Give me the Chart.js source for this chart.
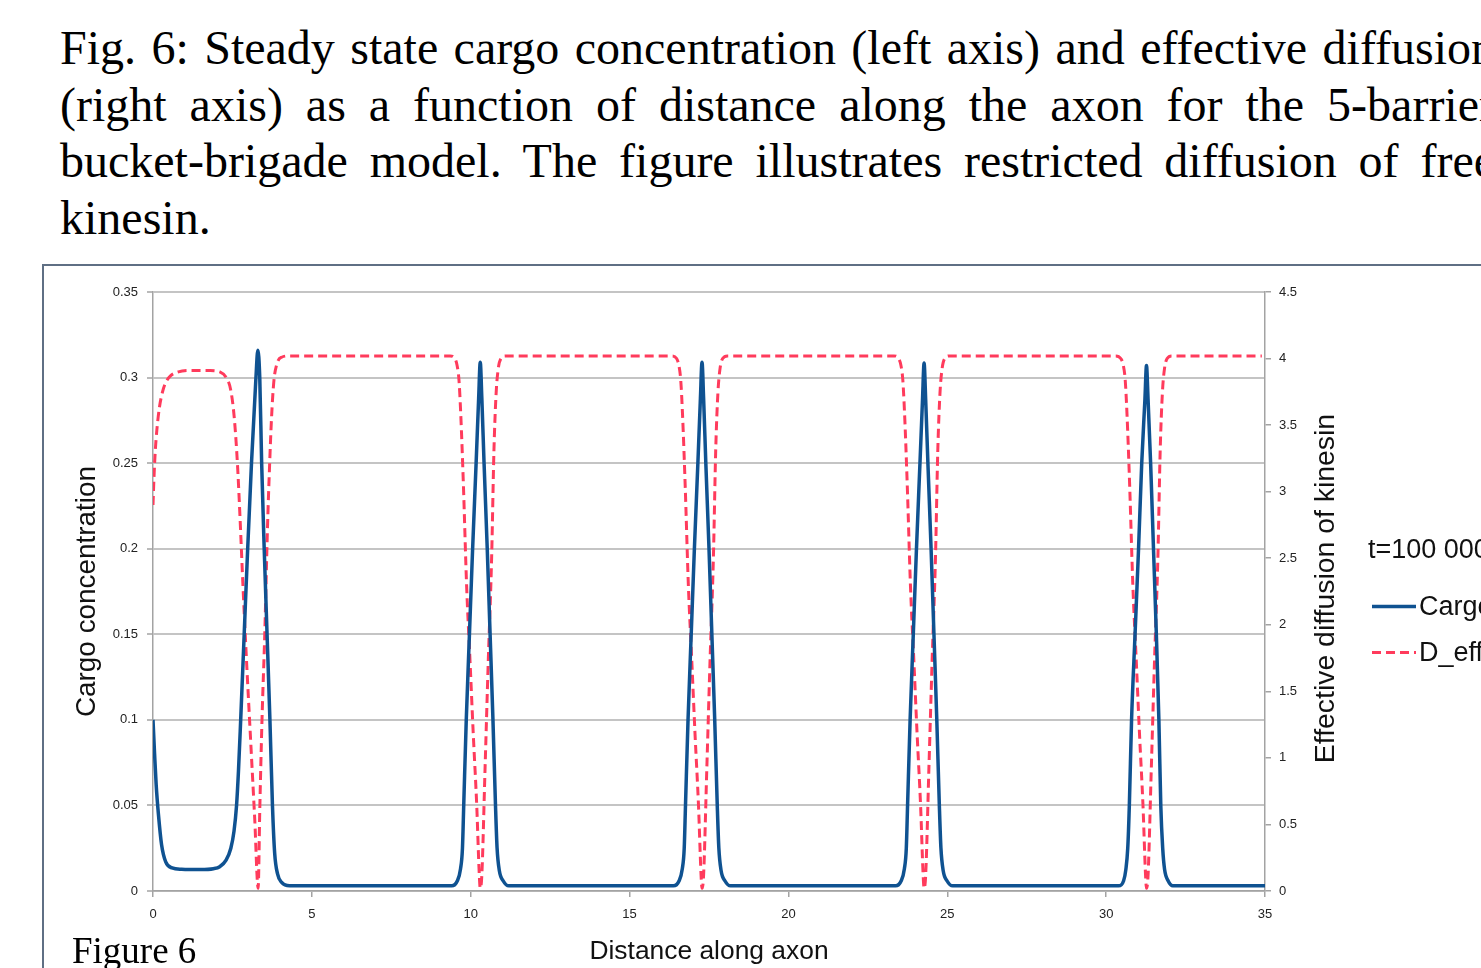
<!DOCTYPE html>
<html>
<head>
<meta charset="utf-8">
<script src="https://cdn.jsdelivr.net/npm/chart.js@4.4.1/dist/chart.umd.min.js"></script>
<style>
  html, body { margin: 0; padding: 0; background: #fff; }
  body { width: 1481px; height: 968px; overflow: hidden; position: relative; }
  .caption {
    position: absolute; left: 60px; top: 20px;
    font-family: "Liberation Serif", "Times New Roman", serif;
    font-size: 48px; line-height: 56.5px; color: #000;
  }
  .caption div { width: 1435px; text-align: justify; text-align-last: justify; }
  .caption div.last { text-align-last: left; }
  .frame {
    position: absolute; left: 42px; top: 264px; width: 1500px; height: 800px;
    border: 2px solid #5f6f84; box-sizing: border-box;
  }
  #chart { position: absolute; left: 44px; top: 266px; }
  .figlabel {
    position: absolute; left: 72px; top: 932px;
    font-family: "Liberation Serif", "Times New Roman", serif;
    font-size: 37px; line-height: 37px; color: #000;
  }
</style>
</head>
<body>
<div class="caption">
  <div>Fig. 6: Steady state cargo concentration (left axis) and effective diffusion</div>
  <div>(right axis) as a function of distance along the axon for the 5-barrier</div>
  <div>bucket-brigade model. The figure illustrates restricted diffusion of free</div>
  <div class="last">kinesin.</div>
</div>
<div class="frame"></div>
<canvas id="chart" width="1437" height="702"></canvas>
<div class="figlabel">Figure 6</div>

<script>
// distance along the axon and cargo concentration (left axis)
const cargoDist = [
  0, 0.05, 0.1, 0.17, 0.27, 0.4, 0.6, 0.9, 1.5, 1.9, 2.1, 2.3, 2.45, 2.55, 2.63, 2.69,
  2.76, 2.87, 2.98, 3.1, 3.24, 3.3, 3.36, 3.42, 3.5, 3.59, 3.68, 3.76, 3.83, 3.92, 4.05, 4.3,
  9.4, 9.58, 9.68, 9.74, 9.78, 9.86, 9.96, 10.06, 10.17, 10.25, 10.3, 10.35, 10.42, 10.52,
  10.61, 10.7, 10.78, 10.83, 10.9, 11.02, 11.2,
  16.38, 16.56, 16.66, 16.72, 16.76, 16.84, 16.94, 17.04, 17.15, 17.23, 17.28, 17.33, 17.4,
  17.5, 17.59, 17.68, 17.76, 17.81, 17.88, 18.0, 18.18,
  23.37, 23.55, 23.65, 23.71, 23.75, 23.83, 23.93, 24.03, 24.14, 24.22, 24.27, 24.32, 24.39,
  24.49, 24.58, 24.67, 24.75, 24.8, 24.87, 24.99, 25.17,
  30.39, 30.55, 30.62, 30.68, 30.73, 30.8, 30.91, 31.02, 31.12, 31.22, 31.27, 31.32, 31.4,
  31.49, 31.58, 31.66, 31.72, 31.78, 31.84, 31.95, 32.1,
  35
];
const cargoConc = [
  0.1, 0.08, 0.062, 0.045, 0.027, 0.017, 0.0135, 0.0127, 0.0125, 0.013, 0.0142, 0.018, 0.025, 0.035, 0.05, 0.07,
  0.1, 0.15, 0.2, 0.25, 0.3, 0.316, 0.3, 0.25, 0.2, 0.15, 0.1, 0.05, 0.022, 0.01, 0.005, 0.003,
  0.003, 0.006, 0.013, 0.025, 0.05, 0.1, 0.15, 0.2, 0.25, 0.288, 0.309, 0.288, 0.25, 0.2,
  0.15, 0.1, 0.05, 0.025, 0.012, 0.006, 0.003,
  0.003, 0.006, 0.013, 0.025, 0.05, 0.1, 0.15, 0.2, 0.25, 0.288, 0.309, 0.288, 0.25,
  0.2, 0.15, 0.1, 0.05, 0.025, 0.012, 0.006, 0.003,
  0.003, 0.006, 0.013, 0.025, 0.05, 0.1, 0.15, 0.2, 0.25, 0.287, 0.3085, 0.287, 0.25,
  0.2, 0.15, 0.1, 0.05, 0.025, 0.012, 0.006, 0.003,
  0.003, 0.006, 0.0125, 0.025, 0.05, 0.1, 0.15, 0.2, 0.25, 0.287, 0.307, 0.287, 0.25,
  0.2, 0.15, 0.1, 0.05, 0.025, 0.0125, 0.006, 0.003,
  0.003
];

// effective diffusion of kinesin (right axis)
const deffDist = [
  0, 0.03, 0.07, 0.12, 0.2, 0.3, 0.4, 0.55, 0.8, 1.2, 1.8, 2.1, 2.3, 2.45, 2.56, 2.66,
  2.74, 2.83, 2.95, 3.08, 3.2, 3.31, 3.36, 3.43, 3.52, 3.6, 3.67, 3.73, 3.8, 3.9, 4.05, 4.3,
  9.35, 9.5, 9.57, 9.63, 9.685, 9.77, 9.87, 9.98, 10.08, 10.19, 10.27, 10.3, 10.35, 10.45,
  10.55, 10.66, 10.73, 10.8, 10.87, 10.95, 11.1,
  16.33, 16.48, 16.55, 16.61, 16.665, 16.75, 16.85, 16.96, 17.06, 17.17, 17.25, 17.28, 17.33,
  17.43, 17.53, 17.64, 17.71, 17.78, 17.85, 17.93, 18.08,
  23.32, 23.47, 23.54, 23.6, 23.655, 23.74, 23.84, 23.95, 24.05, 24.16, 24.24, 24.27, 24.32,
  24.42, 24.52, 24.63, 24.7, 24.77, 24.84, 24.92, 25.07,
  30.3, 30.46, 30.54, 30.6, 30.655, 30.74, 30.84, 30.95, 31.05, 31.16, 31.24, 31.27, 31.32,
  31.42, 31.52, 31.63, 31.7, 31.77, 31.84, 31.92, 32.07,
  34.9
];
const deffVal = [
  2.9, 3.1, 3.3, 3.46, 3.63, 3.75, 3.82, 3.87, 3.9, 3.91, 3.91, 3.9, 3.86, 3.76, 3.55, 3.2,
  2.8, 2.3, 1.7, 1.1, 0.55, 0.02, 0.6, 1.28, 1.95, 2.7, 3.2, 3.55, 3.82, 3.96, 4.01, 4.02,
  4.02, 4.0, 3.95, 3.84, 3.59, 3.05, 2.3, 1.72, 1.18, 0.64, 0.12, 0.02, 0.12, 0.91,
  1.71, 2.52, 3.3, 3.74, 3.93, 4.0, 4.02,
  4.02, 4.0, 3.95, 3.84, 3.59, 3.05, 2.3, 1.72, 1.18, 0.64, 0.12, 0.02, 0.12,
  0.91, 1.71, 2.52, 3.3, 3.74, 3.93, 4.0, 4.02,
  4.02, 4.0, 3.95, 3.84, 3.59, 3.05, 2.3, 1.72, 1.18, 0.64, 0.12, 0.02, 0.12,
  0.91, 1.71, 2.52, 3.3, 3.74, 3.93, 4.0, 4.02,
  4.02, 4.0, 3.95, 3.84, 3.59, 3.05, 2.3, 1.72, 1.18, 0.64, 0.12, 0.02, 0.12,
  0.91, 1.71, 2.52, 3.3, 3.74, 3.93, 4.0, 4.02,
  4.02
];

const distTicks  = [0, 5, 10, 15, 20, 25, 30, 35];
const cargoTicks = [0, 0.05, 0.1, 0.15, 0.2, 0.25, 0.3, 0.35];
const deffTicks  = [0, 0.5, 1, 1.5, 2, 2.5, 3, 3.5, 4, 4.5];

const legendTitle = 't=100 000';
const rightTitle  = 'Effective diffusion of kinesin';

const sans = "'Liberation Sans', Arial, sans-serif";
const gridGrey = '#c4c4c4';
const axisGrey = '#a3a3a3';
const tickFont = { family: sans, size: 13 };

function fmt(v) {
  return String(Number(v.toFixed(2)));
}

// right axis title (reads bottom to top) and the legend block beside it
const sideText = {
  id: 'sideText',
  afterDraw(chart) {
    const { ctx, chartArea } = chart;
    const midY = (chartArea.top + chartArea.bottom) / 2;
    ctx.save();
    ctx.fillStyle = '#111';
    ctx.font = '28.4px ' + sans;
    ctx.textAlign = 'center';
    ctx.textBaseline = 'middle';
    ctx.translate(chartArea.right + 61, midY - 3);
    ctx.rotate(-Math.PI / 2);
    ctx.fillText(rightTitle, 0, 0);
    ctx.restore();

    const lx = chartArea.right + 103;
    ctx.save();
    ctx.fillStyle = '#111';
    ctx.font = '27px ' + sans;
    ctx.textAlign = 'left';
    ctx.textBaseline = 'middle';
    ctx.fillText(legendTitle, lx, midY - 41);
    chart.data.datasets.forEach((ds, i) => {
      const y = midY + 15 + i * 46;
      ctx.beginPath();
      ctx.strokeStyle = ds.borderColor;
      ctx.lineWidth = ds.borderWidth;
      ctx.setLineDash(ds.borderDash || []);
      ctx.moveTo(lx + 4, y);
      ctx.lineTo(lx + 48, y);
      ctx.stroke();
      ctx.setLineDash([]);
      ctx.fillText(ds.label, lx + 51, y + 1);
    });
    ctx.restore();
  }
};

new Chart(document.getElementById('chart'), {
  type: 'line',
  data: {
    datasets: [
      {
        label: 'Cargo',
        data: cargoDist.map((x, i) => ({ x: x, y: cargoConc[i] })),
        yAxisID: 'y',
        borderColor: '#0f5291',
        borderWidth: 3.5,
        pointRadius: 0,
        cubicInterpolationMode: 'monotone',
        fill: false
      },
      {
        label: 'D_eff',
        data: deffDist.map((x, i) => ({ x: x, y: deffVal[i] })),
        yAxisID: 'y2',
        borderColor: '#ff3b5c',
        borderWidth: 3,
        borderDash: [9, 5],
        pointRadius: 0,
        cubicInterpolationMode: 'monotone',
        fill: false
      }
    ]
  },
  options: {
    responsive: false,
    animation: false,
    devicePixelRatio: 1,
    layout: { padding: { top: 26, left: 0, right: 0, bottom: 0 } },
    plugins: {
      legend: { display: false },
      tooltip: { enabled: false }
    },
    scales: {
      x: {
        type: 'linear',
        min: 0,
        max: 35,
        afterBuildTicks: s => { s.ticks = distTicks.map(v => ({ value: v })); },
        afterFit: s => { s.height = 77; },
        ticks: { font: tickFont, color: '#222', padding: 10, maxRotation: 0, callback: v => fmt(v) },
        grid: { drawOnChartArea: false, drawTicks: true, tickLength: 6, color: axisGrey, lineWidth: 1.5 },
        border: { display: true, color: axisGrey, width: 1.5 },
        title: {
          display: true,
          text: 'Distance along axon',
          color: '#111',
          font: { family: sans, size: 26.4 },
          padding: { top: 0, bottom: 0 }
        }
      },
      y: {
        position: 'left',
        min: 0,
        max: 0.35,
        afterBuildTicks: s => { s.ticks = cargoTicks.map(v => ({ value: v })); },
        afterFit: s => { s.width = 109; },
        ticks: { font: tickFont, color: '#222', padding: 9, callback: v => fmt(v) },
        grid: { color: gridGrey, lineWidth: 2, tickLength: 6, tickColor: axisGrey, tickWidth: 1.5 },
        border: { display: true, color: axisGrey, width: 1.5 },
        title: {
          display: true,
          text: 'Cargo concentration',
          color: '#111',
          font: { family: sans, size: 27.9 },
          padding: { top: 27, bottom: 0 }
        }
      },
      y2: {
        position: 'right',
        min: 0,
        max: 4.5,
        afterBuildTicks: s => { s.ticks = deffTicks.map(v => ({ value: v })); },
        afterFit: s => { s.width = 216; },
        ticks: { font: tickFont, color: '#222', padding: 8, callback: v => fmt(v) },
        grid: { drawOnChartArea: false, drawTicks: true, tickLength: 6, color: axisGrey, lineWidth: 1.5 },
        border: { display: true, color: axisGrey, width: 1.5 }
      }
    }
  },
  plugins: [sideText]
});
</script>
</body>
</html>
